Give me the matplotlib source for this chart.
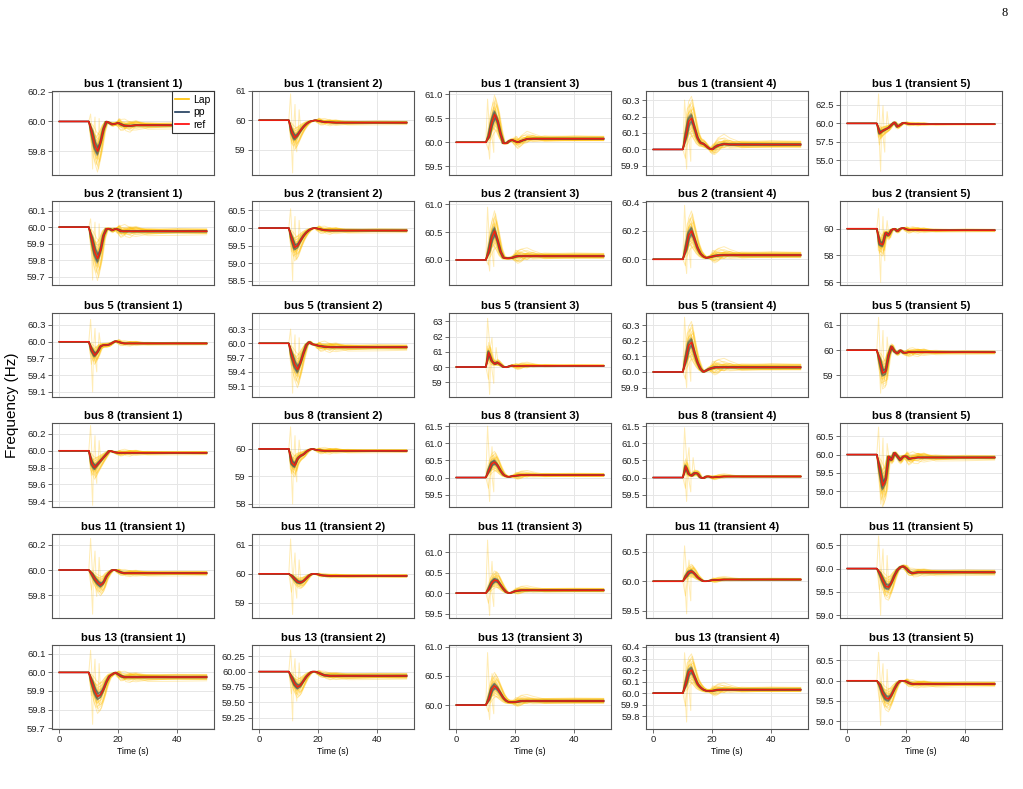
import numpy as np
import matplotlib
matplotlib.use("Agg")
import matplotlib.pyplot as plt
from matplotlib.lines import Line2D

plt.rcParams['font.family'] = ['Liberation Sans', 'DejaVu Sans']

# ---------------- data ----------------
T = [0, 10, 11, 12, 13, 14, 15, 16, 17, 18, 19, 20, 21, 22, 24, 26, 30, 40, 50]
BUSES = [1, 2, 5, 8, 11, 13]
TRANSIENTS = [1, 2, 3, 4, 5]

REF_BUS1 = [
    [60, 60, 59.93, 59.84, 59.80, 59.86, 59.95, 60.00, 59.99, 59.98, 59.985, 59.99, 59.98, 59.972, 59.97, 59.975, 59.975, 59.975, 59.975],
    [60, 60, 59.60, 59.40, 59.50, 59.65, 59.78, 59.88, 59.95, 59.98, 60.00, 59.98, 59.96, 59.94, 59.93, 59.92, 59.92, 59.92, 59.92],
    [60, 60, 60.12, 60.40, 60.58, 60.45, 60.18, 59.98, 59.98, 60.03, 60.05, 60.02, 60.00, 60.03, 60.07, 60.075, 60.075, 60.075, 60.075],
    [60, 60, 60.08, 60.17, 60.19, 60.13, 60.07, 60.04, 60.035, 60.02, 60.005, 60.00, 60.015, 60.025, 60.033, 60.03, 60.03, 60.03, 60.03],
    [60, 60, 58.70, 59.00, 59.20, 59.40, 59.80, 60.15, 59.55, 59.80, 60.10, 60.00, 59.95, 59.92, 59.90, 59.90, 59.90, 59.90, 59.90],
]
REF_BUS2 = [
    [60, 60, 59.93, 59.85, 59.81, 59.86, 59.95, 59.99, 59.99, 59.98, 59.99, 59.985, 59.975, 59.975, 59.975, 59.975, 59.975, 59.975, 59.975],
    [60, 60, 59.70, 59.45, 59.50, 59.65, 59.78, 59.88, 59.95, 59.99, 60.00, 59.98, 59.96, 59.94, 59.93, 59.93, 59.93, 59.93, 59.93],
    [60, 60, 60.15, 60.40, 60.52, 60.35, 60.15, 60.04, 60.03, 60.03, 60.04, 60.06, 60.07, 60.07, 60.07, 60.07, 60.07, 60.07, 60.07],
    [60, 60, 60.07, 60.17, 60.20, 60.14, 60.08, 60.04, 60.02, 60.01, 60.015, 60.02, 60.025, 60.028, 60.03, 60.03, 60.03, 60.03, 60.03],
    [60, 60, 58.90, 58.80, 59.70, 59.50, 59.90, 60.00, 59.80, 60.00, 60.05, 59.95, 59.90, 59.92, 59.90, 59.88, 59.88, 59.88, 59.88],
]
REF_BUS5 = [
    [60, 60, 59.85, 59.76, 59.82, 59.92, 59.94, 59.94, 59.95, 59.98, 60.01, 60.00, 59.98, 59.97, 59.97, 59.97, 59.97, 59.97, 59.97],
    [60, 60, 59.75, 59.55, 59.45, 59.60, 59.80, 59.97, 60.03, 59.98, 59.97, 59.95, 59.94, 59.93, 59.92, 59.92, 59.92, 59.92, 59.92],
    [60, 60, 60.95, 60.40, 60.20, 60.30, 60.15, 60.00, 59.98, 60.05, 60.10, 60.05, 60.05, 60.07, 60.08, 60.08, 60.08, 60.08, 60.08],
    [60, 60, 60.08, 60.17, 60.19, 60.12, 60.06, 60.02, 60.00, 60.01, 60.02, 60.025, 60.03, 60.03, 60.03, 60.03, 60.03, 60.03, 60.03],
    [60, 60, 59.60, 59.10, 59.15, 59.80, 60.15, 59.95, 59.87, 60.00, 59.90, 59.90, 59.93, 59.92, 59.92, 59.92, 59.92, 59.92, 59.92],
]
REF_BUS8 = [
    [60, 60, 59.85, 59.80, 59.84, 59.88, 59.92, 59.96, 60.00, 59.99, 59.98, 59.975, 59.975, 59.975, 59.975, 59.975, 59.975, 59.975, 59.975],
    [60, 60, 59.50, 59.40, 59.65, 59.75, 59.80, 59.90, 59.97, 60.00, 59.97, 59.95, 59.94, 59.93, 59.93, 59.93, 59.93, 59.93, 59.93],
    [60, 60, 60.20, 60.40, 60.45, 60.35, 60.20, 60.08, 60.03, 60.02, 60.04, 60.05, 60.06, 60.07, 60.07, 60.07, 60.07, 60.07, 60.07],
    [60, 60, 60.32, 60.10, 60.05, 60.13, 60.12, 60.00, 59.98, 60.03, 60.03, 60.00, 60.01, 60.02, 60.03, 60.03, 60.03, 60.03, 60.03],
    [60, 60, 59.60, 59.15, 59.30, 59.95, 59.85, 60.05, 59.95, 59.85, 59.95, 59.95, 59.88, 59.90, 59.92, 59.92, 59.92, 59.92, 59.92],
]
REF_BUS11 = [
    [60, 60, 59.97, 59.93, 59.90, 59.88, 59.90, 59.95, 59.98, 60.00, 60.00, 59.99, 59.98, 59.975, 59.975, 59.975, 59.975, 59.975, 59.975],
    [60, 60, 59.93, 59.82, 59.72, 59.70, 59.75, 59.85, 59.95, 60.00, 60.00, 59.98, 59.95, 59.94, 59.93, 59.93, 59.93, 59.93, 59.93],
    [60, 60, 60.10, 60.25, 60.32, 60.30, 60.20, 60.10, 60.02, 60.00, 60.02, 60.05, 60.06, 60.07, 60.07, 60.07, 60.07, 60.07, 60.07],
    [60, 60, 60.08, 60.15, 60.17, 60.13, 60.07, 60.03, 60.00, 60.00, 60.01, 60.02, 60.02, 60.025, 60.03, 60.03, 60.03, 60.03, 60.03],
    [60, 60, 59.90, 59.75, 59.62, 59.60, 59.70, 59.85, 59.97, 60.03, 60.05, 60.00, 59.93, 59.90, 59.92, 59.92, 59.92, 59.92, 59.92],
]
REF_BUS13 = [
    [60, 60, 59.95, 59.90, 59.87, 59.88, 59.91, 59.95, 59.98, 59.99, 60.00, 59.99, 59.98, 59.975, 59.975, 59.975, 59.975, 59.975, 59.975],
    [60, 60, 59.90, 59.80, 59.75, 59.78, 59.85, 59.92, 59.97, 60.00, 60.00, 59.98, 59.96, 59.94, 59.93, 59.93, 59.93, 59.93, 59.93],
    [60, 60, 60.10, 60.27, 60.33, 60.28, 60.20, 60.12, 60.07, 60.05, 60.05, 60.05, 60.06, 60.07, 60.07, 60.07, 60.07, 60.07, 60.07],
    [60, 60, 60.08, 60.18, 60.20, 60.14, 60.08, 60.05, 60.03, 60.02, 60.02, 60.02, 60.025, 60.03, 60.03, 60.03, 60.03, 60.03, 60.03],
    [60, 60, 59.90, 59.70, 59.58, 59.55, 59.65, 59.80, 59.93, 60.00, 60.00, 59.98, 59.94, 59.92, 59.92, 59.92, 59.92, 59.92, 59.92],
]
REF = [REF_BUS1, REF_BUS2, REF_BUS5, REF_BUS8, REF_BUS11, REF_BUS13]

# extreme Lap values (spikes) per panel: (high, low)
SPIKES = [
    [(60.05, 59.68), (60.90, 58.20), (60.90, 59.65), (60.30, 59.88), (64.0, 53.5)],
    [(60.05, 59.68), (60.55, 58.50), (60.95, 59.80), (60.38, 59.90), (61.5, 56.0)],
    [(60.40, 59.10), (60.30, 58.95), (63.20, 58.20), (60.35, 59.90), (61.3, 58.3)],
    [(60.30, 59.35), (60.80, 58.00), (61.50, 59.30), (61.45, 59.30), (60.75, 58.65)],
    [(60.25, 59.65), (61.20, 58.60), (61.30, 59.45), (60.60, 59.45), (60.70, 59.00)],
    [(60.12, 59.72), (60.35, 59.20), (60.90, 59.75), (60.35, 59.75), (60.70, 58.90)],
]

YLIMS = [
    [(59.64, 60.205), (58.13, 61.0), (59.32, 61.07), (59.845, 60.355), (53.0, 64.4)],
    [(59.65, 60.158), (58.38, 60.77), (59.55, 61.06), (59.82, 60.41), (55.8, 62.06)],
    [(59.01, 60.515), (58.87, 60.64), (58.03, 63.55), (59.84, 60.377), (58.15, 61.47)],
    [(59.33, 60.33), (57.89, 60.94), (59.14, 61.59), (59.14, 61.59), (58.57, 60.86)],
    [(59.62, 60.285), (58.48, 61.37), (59.39, 61.45), (59.38, 60.80), (58.94, 60.74)],
    [(59.695, 60.148), (59.07, 60.43), (59.59, 61.03), (59.69, 60.417), (58.81, 60.88)],
]
YTICKS = [
    [[59.8, 60.0, 60.2], [59, 60, 61], [59.5, 60.0, 60.5, 61.0], [59.9, 60.0, 60.1, 60.2, 60.3], [55.0, 57.5, 60.0, 62.5]],
    [[59.7, 59.8, 59.9, 60.0, 60.1], [58.5, 59.0, 59.5, 60.0, 60.5], [60.0, 60.5, 61.0], [60.0, 60.2, 60.4], [56, 58, 60]],
    [[59.1, 59.4, 59.7, 60.0, 60.3], [59.1, 59.4, 59.7, 60.0, 60.3], [59, 60, 61, 62, 63], [59.9, 60.0, 60.1, 60.2, 60.3], [59, 60, 61]],
    [[59.4, 59.6, 59.8, 60.0, 60.2], [58, 59, 60], [59.5, 60.0, 60.5, 61.0, 61.5], [59.5, 60.0, 60.5, 61.0, 61.5], [59.0, 59.5, 60.0, 60.5]],
    [[59.8, 60.0, 60.2], [59, 60, 61], [59.5, 60.0, 60.5, 61.0], [59.5, 60.0, 60.5], [59.0, 59.5, 60.0, 60.5]],
    [[59.7, 59.8, 59.9, 60.0, 60.1], [59.25, 59.50, 59.75, 60.00, 60.25], [60.0, 60.5, 61.0],
     [59.8, 59.9, 60.0, 60.1, 60.2, 60.3, 60.4], [59.0, 59.5, 60.0, 60.5]],
]
YDEC = [
    [1, 0, 1, 1, 1],
    [1, 1, 1, 1, 0],
    [1, 1, 0, 1, 0],
    [1, 0, 1, 1, 1],
    [1, 0, 1, 1, 1],
    [1, 2, 1, 1, 1],
]
XTICKS = [0, 20, 40]

# ensemble member parameters (scale of deviation, time shift)
LAP_SCALE = [1.6, 0.5, 1.3, 0.7, 1.15, 0.85, 1.45, 0.6, 1.05, 0.95, 1.25, 0.75,
             1.35, 0.9, 1.1, 0.8, 1.2, 0.65, 1.5, 1.0, 0.55, 1.4, 0.88, 1.12,
             1.7, 0.45, 1.02, 0.98, 1.28, 0.72]
LAP_SHIFT = [0.3, -0.4, 0.5, -0.2, 0.1, 0.6, -0.5, 0.2, -0.1, 0.4, -0.3, 0.0,
             0.7, -0.6, 0.25, -0.15, 0.45, -0.35, 0.15, 0.55, -0.45, 0.35, -0.25, 0.05,
             -0.05, 0.65, -0.55, 0.12, -0.22, 0.38]
LAP_TAIL_GAIN = [1.0, 0.6, 1.4, 0.3, 0.8, 1.2, 0.5, 1.1, 0.4, 0.9, 1.3, 0.2,
                 0.7, 1.0, 0.6, 1.5, 0.3, 0.8, 1.1, 0.5, 0.9, 0.4, 1.2, 0.7,
                 1.6, 0.35, 0.85, 1.25, 0.55, 1.05]
TAIL_PATTERNS = [
    [0.10, 0.20, 0.25, 0.10, -0.05, 0.00, 0.05, 0.02],
    [-0.15, -0.25, -0.20, 0.05, 0.10, 0.02, -0.03, 0.00],
    [0.20, 0.05, -0.15, -0.20, 0.00, 0.08, 0.03, 0.04],
    [-0.05, 0.10, 0.15, 0.20, 0.10, -0.05, -0.04, -0.02],
    [0.25, 0.15, 0.00, -0.10, -0.15, -0.05, 0.04, 0.01],
    [-0.20, -0.10, 0.05, 0.15, 0.05, 0.10, -0.02, -0.03],
    [0.05, -0.12, -0.05, 0.12, 0.18, -0.06, 0.02, -0.01],
]
PP_SCALE = [0.85, 1.15, 0.92, 1.08, 1.0, 0.88, 1.12, 0.96, 1.04, 0.9, 1.1]
PP_SHIFT = [0.25, -0.25, 0.4, -0.4, 0.0, 0.15, -0.1, 0.3, -0.3, -0.15, 0.1]

# ---------------- style ----------------
W, H = 1023, 789
COL_LEFT = [52, 252, 449, 646, 840]
ROW_TOP = [91, 201, 313, 423, 534, 645]
AX_W, AX_H = 162, 84
LAP_C = '#FFC107'
PP_C = '#2a4658'
REF_C = '#ff1a0a'
SPINE_C = '#555555'

fig = plt.figure(figsize=(W / 100, H / 100), dpi=100)


def member(ref, scale, shift, tail=None, amp=0.0):
    t = np.array(T, dtype=float)
    y = 60.0 + scale * (np.array(ref, dtype=float) - 60.0)
    t[2:14] = t[2:14] + shift
    if tail is not None:
        y[11:19] = y[11:19] + np.array(tail) * amp
    return t, y


for r, bus in enumerate(BUSES):
    for c, tr in enumerate(TRANSIENTS):
        left = COL_LEFT[c] / W
        bottom = 1 - (ROW_TOP[r] + AX_H) / H
        ax = fig.add_axes([left, bottom, AX_W / W, AX_H / H])
        ref = REF[r][c]
        refa = np.array(ref)
        amp = np.max(np.abs(refa - 60.0))
        hi, lo = SPIKES[r][c]

        # Lap ensemble
        for k, (s, sh) in enumerate(zip(LAP_SCALE, LAP_SHIFT)):
            t, y = member(ref, s, sh, TAIL_PATTERNS[k % len(TAIL_PATTERNS)], amp * LAP_TAIL_GAIN[k] * 0.6)
            extra = None
            if k == 0:
                extra = (10.6, hi)
            elif k == 1:
                extra = (11.3, lo)
            elif k == 2:
                extra = (12.1, 60 + 0.6 * (hi - 60))
            elif k == 3:
                extra = (12.7, 60 + 0.6 * (lo - 60))
            elif k == 4:
                extra = (13.5, 60 + 0.4 * (hi - 60))
            elif k == 5:
                extra = (10.9, 60 + 0.45 * (lo - 60))
            if extra is not None:
                t = np.append(t, extra[0])
                y = np.append(y, extra[1])
                o = np.argsort(t)
                t, y = t[o], y[o]
            ax.plot(t, y, color=LAP_C, lw=0.7, alpha=0.3, zorder=2)

        # pp ensemble
        for s, sh in zip(PP_SCALE, PP_SHIFT):
            t, y = member(ref, s, sh)
            ax.plot(t, y, color=PP_C, lw=0.9, alpha=0.3, zorder=3)

        # reference
        ax.plot(T, ref, color=REF_C, lw=1.1, alpha=0.9, zorder=4)

        ax.set_xlim(-2.5, 52.5)
        ax.set_ylim(*YLIMS[r][c])
        ax.set_xticks(XTICKS)
        ax.set_yticks(YTICKS[r][c])
        d = YDEC[r][c]
        ax.set_yticklabels([f"{v:.{d}f}" for v in YTICKS[r][c]], fontsize=6.8)
        ax.grid(True, color='#e6e6e6', lw=0.7, zorder=0)
        ax.set_axisbelow(True)
        for sp in ax.spines.values():
            sp.set_color(SPINE_C)
            sp.set_linewidth(0.8)
        ax.tick_params(axis='y', length=3, width=0.6, color=SPINE_C, pad=1.5, labelcolor='#222222')
        if r == len(BUSES) - 1:
            ax.tick_params(axis='x', length=3, width=0.6, color=SPINE_C, pad=1.5,
                           labelsize=6.8, labelcolor='#222222')
            ax.set_xlabel("Time (s)", fontsize=6.2, labelpad=2)
        else:
            ax.tick_params(axis='x', length=0, labelbottom=False)
        ax.set_title(f"bus {bus} (transient {tr})", fontsize=8.2, fontweight='bold', pad=3)

        if r == 0 and c == 0:
            handles = [Line2D([], [], color='#FFC000', lw=1.2),
                       Line2D([], [], color='#1d3a5a', lw=1.2),
                       Line2D([], [], color='red', lw=1.2)]
            leg = ax.legend(handles, ['Lap', 'pp', 'ref'], loc='upper right', fontsize=7.5,
                            frameon=True, fancybox=False, borderaxespad=0, handlelength=1.3,
                            handletextpad=0.4, borderpad=0.35, labelspacing=0.25, framealpha=1)
            leg.get_frame().set_edgecolor('#333333')
            leg.get_frame().set_linewidth(0.8)
            leg.set_zorder(10)

fig.text(12 / W, 1 - 405 / H, "Frequency (Hz)", rotation=90, ha='center', va='center', fontsize=11)
fig.text(1005 / W, 1 - 13 / H, "8", ha='center', va='center', fontsize=9, family='Liberation Serif')

fig.savefig("out.png", dpi=100)
